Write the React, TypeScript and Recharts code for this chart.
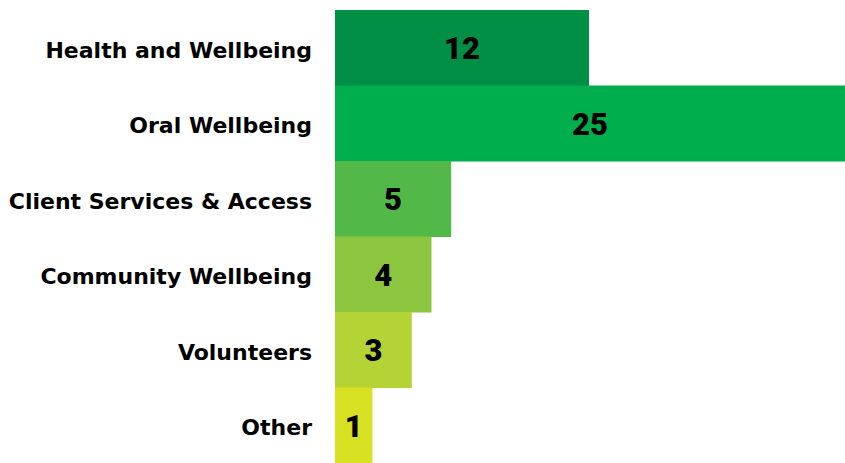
import { BarChart, Bar, XAxis, YAxis, Cell, LabelList } from 'recharts';

const categories = [
  'Health and Wellbeing',
  'Oral Wellbeing',
  'Client Services & Access',
  'Community Wellbeing',
  'Volunteers',
  'Other'
];
const counts = [12, 25, 5, 4, 3, 1];
const barColors = ['#008F45', '#00AE4D', '#52B848', '#8CC63F', '#B4D335', '#D8E022'];

// axis starts a little below zero so the short bars keep some body, like the original
const AXIS_MIN = -0.9;
const AXIS_MAX = 25;

const data = categories.map((name, i) => ({ name, value: counts[i] }));

export default function App() {
  return (
    <div style={{ position: 'absolute', left: 0, top: 0, width: 845, height: 463, background: '#fff' }}>
      <BarChart
        width={845}
        height={463}
        data={data}
        layout="vertical"
        barCategoryGap={0}
        margin={{ top: 10, right: 0, bottom: 0, left: 0 }}
      >
        <XAxis type="number" hide domain={[AXIS_MIN, AXIS_MAX]} allowDataOverflow />
        <YAxis
          dataKey="name"
          type="category"
          width={335}
          axisLine={false}
          tickLine={false}
          tickSize={0}
          tickMargin={23}
          tick={{
            fontSize: 22,
            fontWeight: 700,
            fill: '#000',
            dy: 2,
            fontFamily: '"DejaVu Sans", sans-serif'
          }}
        />
        <Bar
          dataKey={(d: any) => [AXIS_MIN, d.value]}
          isAnimationActive={false}
        >
          {data.map((entry, index) => (
            <Cell key={`cell-${index}`} fill={barColors[index]} />
          ))}
          <LabelList
            dataKey="value"
            position="center"
            offset={0}
            style={{
              fontSize: 31,
              fontWeight: 900,
              fill: '#000',
              fontFamily: 'Roboto, sans-serif'
            }}
          />
        </Bar>
      </BarChart>
    </div>
  );
}
